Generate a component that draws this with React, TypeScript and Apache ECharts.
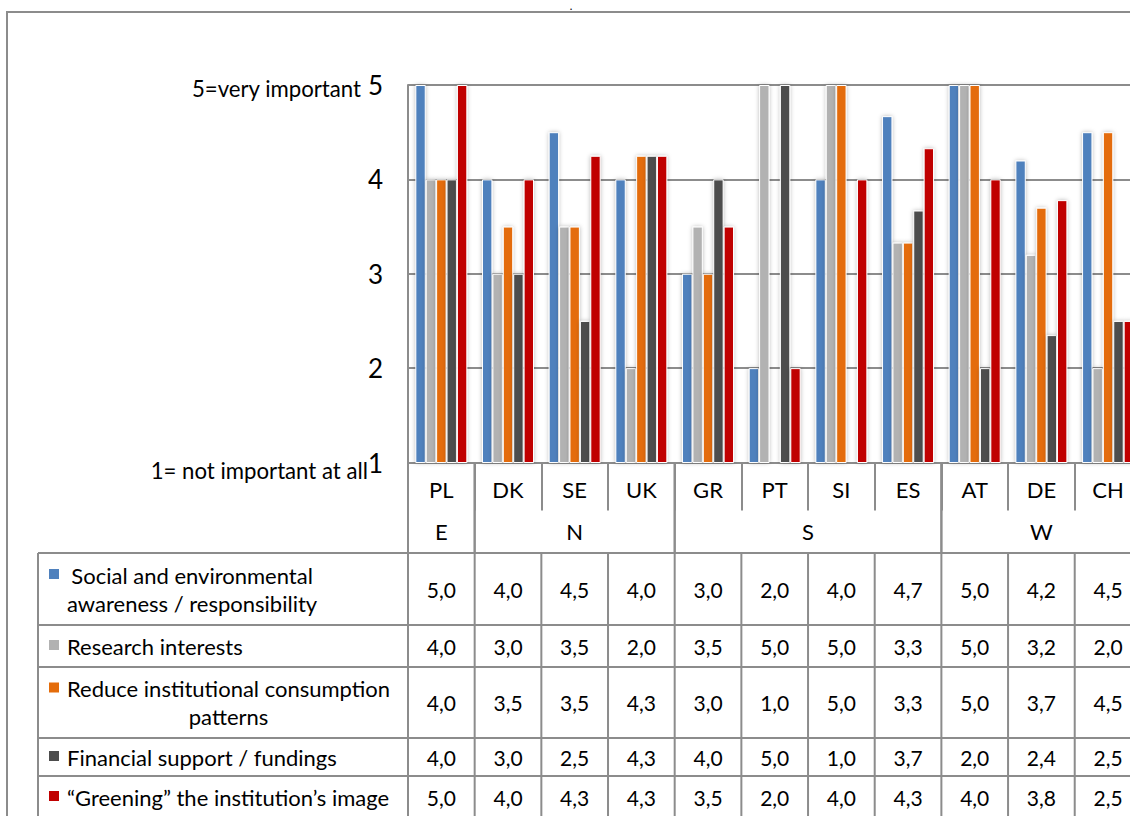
import React, { useEffect, useRef } from "react";
import * as echarts from "echarts";

// Countries on the category axis and the regional groups they belong to
const countries = ["PL", "DK", "SE", "UK", "GR", "PT", "SI", "ES", "AT", "DE", "CH"];
const regionNames = ["E", "N", "S", "W"];
const regionSpans = [1, 3, 4, 3];

// Motive names, split where the data-table cell wraps them
const motiveLabelLines = [
  ["Social and environmental", "awareness / responsibility"],
  ["Research interests"],
  ["Reduce institutional consumption", "patterns"],
  ["Financial support / fundings"],
  ["\u201cGreening\u201d the institution\u2019s image"],
];

// Mean importance per country (1 = not important at all, 5 = very important)
const socialValues = [5, 4, 4.5, 4, 3, 2, 4, 4.67, 5, 4.2, 4.5];
const researchValues = [4, 3, 3.5, 2, 3.5, 5, 5, 3.33, 5, 3.2, 2];
const consumptionValues = [4, 3.5, 3.5, 4.25, 3, 1, 5, 3.33, 5, 3.7, 4.5];
const fundingValues = [4, 3, 2.5, 4.25, 4, 5, 1, 3.67, 2, 2.35, 2.5];
const imageValues = [5, 4, 4.25, 4.25, 3.5, 2, 4, 4.33, 4, 3.78, 2.5];
const motiveValues = [socialValues, researchValues, consumptionValues, fundingValues, imageValues];

// Importance scale
const scaleMin = 1;
const scaleMax = 5;
const scaleStep = 1;
const scaleEndValues = [5, 1];
const scaleEndLabels = ["5=very important", "1= not important at all"];

const FONT = "Lato";
const GRID_LINE = "#8c8c8c";
const COLORS = ["#4F81BD", "#B2B2B2", "#E46C0A", "#4D4D4D", "#C00000"];

// table geometry
const TABLE_LEFT = 38;
const LABEL_ROW_H = 48;
const REGION_ROW_BOTTOM = 553;
const ROW_HEIGHTS = [72, 42, 71, 38, 42];
const TABLE_FONT = 22;
const VALUE_FONT = 21;

const fmt = (v: number) => (Math.round(v * 10) / 10).toFixed(1).replace(".", ",");

const measureCanvas = document.createElement("canvas");
const measure = (s: string, size: number) => {
  const ctx = measureCanvas.getContext("2d")!;
  ctx.font = `${size}px ${FONT}`;
  return ctx.measureText(s).width;
};

const txt = (text: string, x: number, y: number, size: number, align = "center", vAlign = "middle") => ({
  type: "text",
  silent: true,
  x,
  y,
  style: {
    text,
    fill: "#000",
    fontSize: size,
    fontFamily: FONT,
    align,
    verticalAlign: vAlign,
    textAlign: align,
    textVerticalAlign: vAlign,
  },
});

const seg = (x1: number, y1: number, x2: number, y2: number) => ({
  type: "line",
  silent: true,
  shape: { x1, y1, x2, y2 },
  style: { stroke: GRID_LINE, lineWidth: 2 },
});

export default function App() {
  const ref = useRef<HTMLDivElement>(null);

  useEffect(() => {
    const chart = echarts.init(ref.current!, null, { renderer: "svg" });
    chart.setOption({
      animation: false,
      grid: { left: 408, top: 85, width: 733.4, height: 377.5, containLabel: false },
      xAxis: {
        type: "category",
        data: countries,
        axisLine: { lineStyle: { color: GRID_LINE, width: 2 } },
        axisTick: { show: true, interval: 0, length: LABEL_ROW_H, lineStyle: { color: GRID_LINE, width: 2 } },
        axisLabel: { interval: 0, fontSize: TABLE_FONT, fontFamily: FONT, color: "#000", margin: 16 },
      },
      yAxis: {
        type: "value",
        min: scaleMin,
        max: scaleMax,
        interval: scaleStep,
        axisLine: { show: true, lineStyle: { color: GRID_LINE, width: 2 } },
        axisTick: { show: false },
        splitLine: { lineStyle: { color: GRID_LINE, width: 2 } },
        axisLabel: { fontSize: 26, fontFamily: FONT, color: "#000", margin: 25 },
      },
      series: motiveValues.map((vals, i) => ({
        type: "bar",
        name: motiveLabelLines[i].join(" "),
        data: vals,
        barWidth: 10.4,
        barGap: "0%",
        itemStyle: {
          color: COLORS[i],
          borderColor: "#fff",
          borderWidth: 1,
          shadowBlur: 4,
          shadowColor: "rgba(0,0,0,0.28)",
        },
      })),
    });

    const cx = (i: number) => chart.convertToPixel({ xAxisIndex: 0 }, countries[i]) as number;
    const py = (v: number) => chart.convertToPixel({ yAxisIndex: 0 }, v) as number;
    const cw = cx(1) - cx(0);
    const left = cx(0) - cw / 2;
    const right = left + cw * countries.length;
    const axisY = py(scaleMin);

    const els: any[] = [];
    // outer chart-area frame
    els.push({
      type: "rect",
      silent: true,
      shape: { x: 7, y: 12, width: 1300, height: 1000 },
      style: { fill: "none", stroke: GRID_LINE, lineWidth: 2 },
    });
    // chart title (a lone full stop)
    els.push(txt(".", 571, 0, 11, "center", "top"));

    // scale end descriptions beside the value labels
    els.push(txt(scaleEndLabels[0], 361, py(scaleEndValues[0]) + 3, 22.2, "right"));
    els.push(txt(scaleEndLabels[1], 368, py(scaleEndValues[1]) + 8, 22.2, "right"));

    // region row
    let start = 0;
    regionNames.forEach((r, k) => {
      const x0 = left + start * cw;
      const x1 = x0 + regionSpans[k] * cw;
      els.push(seg(x0, axisY, x0, REGION_ROW_BOTTOM));
      els.push(seg(x1, axisY, x1, REGION_ROW_BOTTOM));
      els.push(txt(r, (x0 + x1) / 2, (axisY + LABEL_ROW_H + REGION_ROW_BOTTOM) / 2, TABLE_FONT));
      start += regionSpans[k];
    });

    // data table
    const tableBottom = REGION_ROW_BOTTOM + ROW_HEIGHTS.reduce((a, b) => a + b, 0);
    let y = REGION_ROW_BOTTOM;
    els.push(seg(TABLE_LEFT, y, right, y));
    els.push(seg(TABLE_LEFT, y, TABLE_LEFT, tableBottom));
    els.push(seg(left, y, left, tableBottom));
    for (let i = 0; i <= countries.length; i++) {
      els.push(seg(left + i * cw, y, left + i * cw, tableBottom));
    }
    motiveLabelLines.forEach((lines, r) => {
      const h = ROW_HEIGHTS[r];
      const mid = y + h / 2;
      const lineH = 28;
      const firstY = mid - ((lines.length - 1) * lineH) / 2;
      els.push({
        type: "rect",
        silent: true,
        shape: { x: 49, y: firstY - 6, width: 10, height: 10 },
        style: { fill: COLORS[r] },
      });
      const textLeft = 67;
      if (lines.length === 1) {
        els.push(txt(lines[0], textLeft, firstY, TABLE_FONT, "left"));
      } else {
        const blockW = Math.max(...lines.map((l) => measure(l, TABLE_FONT)));
        lines.forEach((l, j) => els.push(txt(l, textLeft + blockW / 2, firstY + j * lineH, TABLE_FONT)));
      }
      motiveValues[r].forEach((v, i) => els.push(txt(fmt(v), cx(i), mid, VALUE_FONT)));
      y += h;
      els.push(seg(TABLE_LEFT, y, right, y));
    });

    chart.setOption({ graphic: { elements: els } });
    return () => chart.dispose();
  }, []);

  return (
    <div
      style={{ position: "fixed", left: 0, top: 0, width: 1130, height: 816, overflow: "hidden", background: "#fff" }}
    >
      <div ref={ref} style={{ width: 1170, height: 860 }} />
    </div>
  );
}
